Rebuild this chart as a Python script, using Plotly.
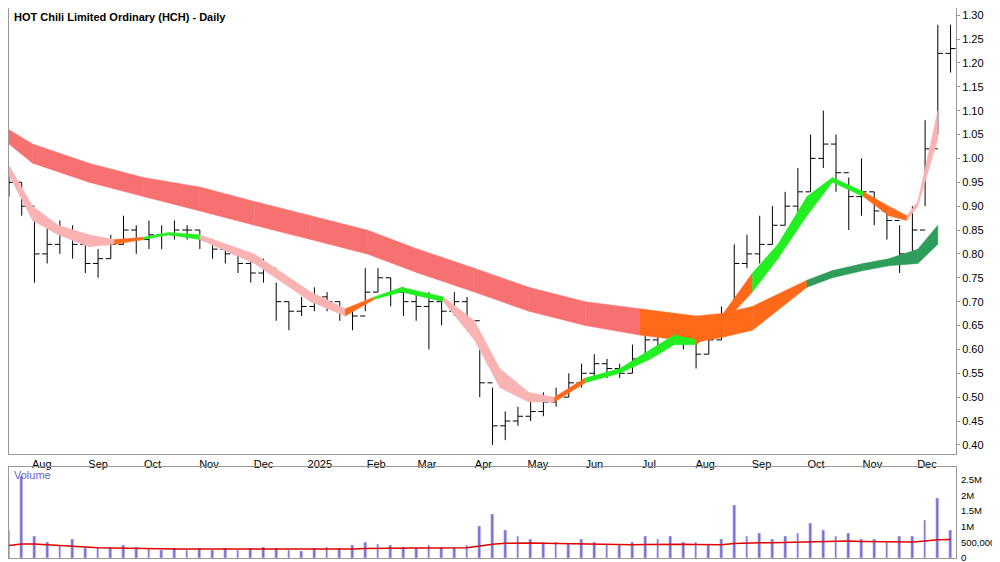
import plotly.graph_objects as go
import pandas as pd

weeks = pd.date_range("2024-07-19", periods=75, freq="7D")
close = [0.95,0.90,0.80,0.82,0.84,0.82,0.78,0.79,0.82,0.85,0.83,0.84,0.84,0.85,0.85,0.83,0.81,0.80,0.78,0.76,
         0.77,0.70,0.68,0.69,0.71,0.70,0.68,0.67,0.72,0.75,0.72,0.70,0.69,0.70,0.68,0.70,0.66,0.53,0.44,0.45,
         0.46,0.47,0.49,0.50,0.53,0.55,0.57,0.56,0.55,0.58,0.62,0.63,0.64,0.62,0.59,0.62,0.66,0.78,0.80,0.82,
         0.86,0.90,0.93,1.00,1.03,0.97,0.92,0.93,0.89,0.87,0.80,0.85,1.02,1.22,1.23]
high = [0.98,0.95,0.88,0.86,0.87,0.86,0.82,0.81,0.84,0.88,0.86,0.87,0.86,0.87,0.86,0.85,0.83,0.82,0.80,0.79,
        0.79,0.74,0.70,0.71,0.73,0.72,0.70,0.69,0.77,0.77,0.75,0.73,0.72,0.72,0.71,0.72,0.71,0.62,0.52,0.47,
        0.48,0.49,0.51,0.52,0.55,0.57,0.59,0.58,0.57,0.61,0.64,0.66,0.67,0.66,0.62,0.64,0.69,0.82,0.84,0.88,
        0.90,0.93,0.98,1.05,1.10,1.05,0.96,1.00,0.93,0.90,0.86,0.90,1.08,1.28,1.28]
low = [0.92,0.88,0.74,0.78,0.80,0.79,0.76,0.75,0.79,0.82,0.80,0.81,0.81,0.83,0.83,0.81,0.79,0.78,0.76,0.74,
       0.74,0.66,0.64,0.67,0.68,0.68,0.66,0.64,0.68,0.72,0.69,0.67,0.66,0.60,0.65,0.67,0.64,0.50,0.40,0.41,
       0.44,0.45,0.46,0.48,0.50,0.52,0.54,0.54,0.54,0.55,0.58,0.60,0.61,0.60,0.56,0.59,0.62,0.68,0.77,0.78,
       0.82,0.86,0.88,0.93,0.98,0.93,0.85,0.88,0.86,0.83,0.76,0.80,0.90,1.05,1.18]
volume = [900000,2600000,700000,500000,400000,600000,300000,350000,300000,400000,350000,300000,250000,300000,250000,300000,
          250000,300000,250000,300000,350000,300000,250000,200000,300000,350000,300000,400000,500000,450000,400000,350000,
          300000,400000,350000,300000,400000,1000000,1400000,900000,700000,600000,500000,500000,450000,600000,500000,450000,
          400000,500000,700000,600000,700000,500000,500000,400000,600000,1700000,700000,800000,600000,700000,800000,1100000,
          900000,700000,800000,600000,600000,500000,700000,700000,1200000,1900000,900000]
vol_ma = [400000,450000,450000,420000,400000,380000,350000,330000,320000,310000,300000,300000,290000,290000,290000,290000,
          280000,280000,280000,280000,280000,280000,280000,270000,270000,270000,280000,290000,300000,310000,320000,320000,
          320000,320000,320000,320000,330000,380000,440000,470000,480000,480000,470000,460000,450000,450000,440000,430000,
          420000,420000,430000,440000,450000,440000,430000,420000,420000,460000,480000,490000,490000,500000,510000,530000,
          540000,540000,540000,530000,520000,510000,510000,510000,540000,580000,590000]

long_dates = ["2024-07-19","2024-08-01","2024-09-01","2024-10-01","2024-11-01","2024-12-01","2025-01-01","2025-02-01",
              "2025-03-01","2025-04-01","2025-05-01","2025-06-01","2025-07-01","2025-08-01","2025-08-15","2025-09-01",
              "2025-10-01","2025-10-15","2025-11-01","2025-11-15","2025-12-01","2025-12-12"]
long_up = [1.06,1.03,0.99,0.96,0.94,0.91,0.88,0.85,0.81,0.77,0.73,0.70,0.685,0.67,0.675,0.69,0.745,0.765,0.78,0.79,0.81,0.86]
long_lo = [1.03,0.99,0.95,0.92,0.89,0.86,0.83,0.80,0.76,0.72,0.68,0.65,0.63,0.615,0.625,0.64,0.73,0.75,0.765,0.775,0.78,0.82]
long_col = ["red"]*12 + ["orange"]*4 + ["dgreen"]*6

short_dates = ["2024-07-19","2024-08-01","2024-08-15","2024-09-01","2024-09-15","2024-10-01","2024-10-15","2024-11-01",
               "2024-12-01","2025-01-01","2025-01-20","2025-02-05","2025-02-20","2025-03-15","2025-04-01","2025-04-15",
               "2025-05-01","2025-05-15","2025-06-01","2025-06-20","2025-07-07","2025-07-20","2025-08-01","2025-08-15",
               "2025-09-01","2025-09-15","2025-10-01","2025-10-15","2025-11-01","2025-11-15","2025-11-25","2025-12-01","2025-12-12"]
short_up = [0.985,0.90,0.86,0.84,0.83,0.835,0.845,0.84,0.80,0.72,0.685,0.71,0.73,0.71,0.66,0.56,0.51,0.50,0.54,0.56,0.60,0.63,0.62,0.67,0.76,0.82,0.92,0.96,0.93,0.90,0.88,0.91,1.10]
short_lo = [0.965,0.87,0.84,0.815,0.82,0.83,0.84,0.83,0.78,0.70,0.67,0.705,0.72,0.70,0.62,0.52,0.49,0.49,0.53,0.55,0.58,0.61,0.61,0.65,0.72,0.79,0.88,0.95,0.92,0.88,0.87,0.90,1.04]
short_col = ["pink"]*4 + ["orange"] + ["green"]*2 + ["pink"]*3 + ["orange"] + ["green"]*2 + ["pink"]*4 + ["orange"] + ["green"]*4 + ["orange","orange"] + ["green"]*4 + ["orange","orange"] + ["pink","pink"] + ["green","green"]

colors = {"red": "#f87171", "orange": "#ff6a1a", "dgreen": "#2e9c5a", "pink": "#f9b3b3", "green": "#22ee22"}

fig = go.Figure()

def band(dates, up, lo, cols):
    d = pd.to_datetime(dates)
    for i in range(len(d) - 1):
        c = colors[cols[i]]
        fig.add_trace(go.Scatter(x=[d[i], d[i+1], d[i+1], d[i], d[i]],
                                 y=[up[i], up[i+1], lo[i+1], lo[i], up[i]],
                                 fill="toself", fillcolor=c, mode="lines",
                                 line=dict(width=0.5, color=c), hoverinfo="skip",
                                 showlegend=False, xaxis="x", yaxis="y"))

band(long_dates, long_up, long_lo, long_col)
band(short_dates, short_up, short_lo, short_col)

opens = [close[0]] + close[:-1]
fig.add_trace(go.Ohlc(x=weeks, open=opens, high=high, low=low, close=close,
                      increasing_line_color="black", decreasing_line_color="black",
                      line_width=1, tickwidth=0.4, showlegend=False, xaxis="x", yaxis="y"))

fig.add_trace(go.Bar(x=weeks, y=volume, marker_color="#7b6fd6", width=1.5 * 86400000,
                     showlegend=False, xaxis="x2", yaxis="y2"))
fig.add_trace(go.Scatter(x=weeks, y=vol_ma, mode="lines", line=dict(color="#e00000", width=1.5),
                         showlegend=False, xaxis="x2", yaxis="y2"))

month_starts = pd.date_range("2024-08-01", "2025-12-01", freq="MS")
tickvals = [m + pd.Timedelta(days=5) for m in month_starts]
ticktext = ["2025" if (m.month == 1) else m.strftime("%b") for m in month_starts]

xr = ["2024-07-19", "2025-12-22"]
fig.update_layout(
    width=1000, height=562, paper_bgcolor="white", plot_bgcolor="white",
    margin=dict(l=1, r=52, t=0, b=12, autoexpand=False),
    font=dict(family="Liberation Sans, Arial", size=11, color="black"),
    xaxis=dict(range=xr, domain=[0, 1], tickvals=tickvals, ticktext=ticktext, ticks="",
               showline=True, linecolor="#999", mirror=True, showgrid=False,
               rangeslider=dict(visible=False), anchor="y"),
    yaxis=dict(domain=[0.19, 1.0], range=[0.382, 1.315], side="right", dtick=0.05, tickformat=".2f",
               showline=True, linecolor="#999", mirror=True, showgrid=False, ticks="outside",
               ticklen=3, tickcolor="#999", anchor="x"),
    xaxis2=dict(range=xr, domain=[0, 1], showticklabels=False, showline=True, linecolor="#999",
                mirror=True, showgrid=False, anchor="y2"),
    yaxis2=dict(domain=[0.0, 0.165], range=[0, 2.9e6], side="right",
                tickvals=[0, 500000, 1000000, 1500000, 2000000, 2500000],
                ticktext=["0", "500,000", "1M", "1.5M", "2M", "2.5M"], tickfont=dict(size=9.5),
                ticklabelstandoff=2,
                showline=True, linecolor="#999", mirror=True, showgrid=False, anchor="x2"),
    bargap=0,
    annotations=[
        dict(text="<b>HOT Chili Limited Ordinary (HCH) - Daily</b>", x=0.003, y=0.998, xref="paper",
             yref="paper", xanchor="left", yanchor="top", showarrow=False, font=dict(size=11)),
        dict(text="Volume", x=0.003, y=0.165, xref="paper", yref="paper", xanchor="left",
             yanchor="top", showarrow=False, font=dict(size=11, color="#6a5fc8")),
    ],
)

fig.write_html("out.html")
